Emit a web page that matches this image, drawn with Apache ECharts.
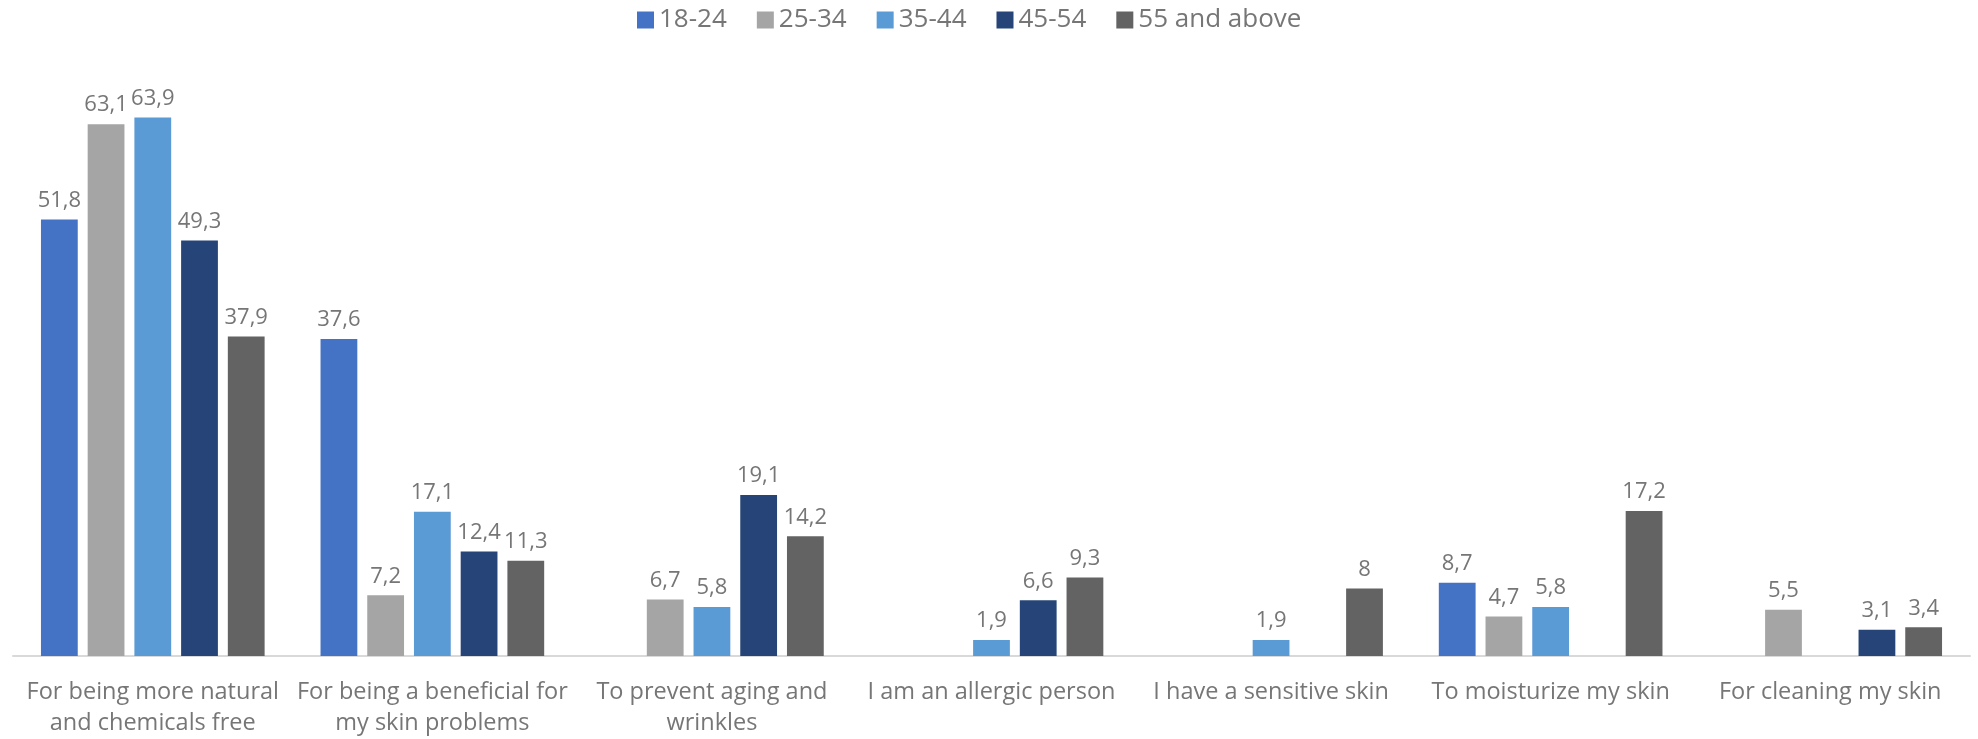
<!DOCTYPE html>
<html>
<head>
<meta charset="utf-8">
<title>Reasons for choosing products by age group</title>
<script src="https://cdn.jsdelivr.net/npm/echarts@6/dist/echarts.min.js"></script>
<style>
  html, body { margin: 0; padding: 0; background: #ffffff; }
  #chart { width: 1978px; height: 739px; }
</style>
</head>
<body>
<div id="chart"></div>
<script>
// Reasons (x-axis categories)
const categories = [
  'For being more natural\nand chemicals free',
  'For being a beneficial for\nmy skin problems',
  'To prevent aging and\nwrinkles',
  'I am an allergic person',
  'I have a sensitive skin',
  'To moisturize my skin',
  'For cleaning my skin'
];

// Age groups
const ageGroups = ['18-24', '25-34', '35-44', '45-54', '55 and above'];

// Percentages per age group (null = no answer in that group)
const age18to24 = [51.8, 37.6, null, null, null, 8.7, null];
const age25to34 = [63.1, 7.2, 6.7, null, null, 4.7, 5.5];
const age35to44 = [63.9, 17.1, 5.8, 1.9, 1.9, 5.8, null];
const age45to54 = [49.3, 12.4, 19.1, 6.6, null, null, 3.1];
const age55plus = [37.9, 11.3, 14.2, 9.3, 8, 17.2, 3.4];

const seriesValues = [age18to24, age25to34, age35to44, age45to54, age55plus];
const colors = ['#4472C4', '#A5A5A5', '#5B9BD5', '#264478', '#636363'];

const FONT = '"Open Sans", "Noto Sans", sans-serif';
const TEXT = '#767676';

const chart = echarts.init(document.getElementById('chart'));

chart.setOption({
  animation: false,
  textStyle: { fontFamily: FONT },
  color: colors,
  legend: {
    top: 2,
    left: 632,
    itemWidth: 17,
    itemHeight: 17,
    itemGap: 30,
    icon: 'rect',
    textStyle: { fontFamily: FONT, fontSize: 26, color: TEXT },
    data: ageGroups
  },
  grid: { left: 13, right: 8, top: 66, bottom: 76.5, containLabel: false },
  xAxis: {
    type: 'category',
    data: categories,
    axisLine: { lineStyle: { color: '#D9D9D9', width: 2 } },
    axisTick: { show: false },
    axisLabel: {
      interval: 0,
      margin: 21,
      fontFamily: FONT,
      fontSize: 23.5,
      lineHeight: 31,
      color: TEXT
    }
  },
  yAxis: {
    type: 'value',
    min: 0,
    max: 70,
    show: false,
    splitLine: { show: false }
  },
  series: ageGroups.map((name, i) => ({
    name: name,
    type: 'bar',
    data: seriesValues[i],
    barGap: '27%',
    barCategoryGap: '20%',
    itemStyle: { color: colors[i] },
    label: {
      show: true,
      position: 'top',
      distance: 8,
      fontFamily: FONT,
      fontSize: 22,
      color: TEXT,
      formatter: p => (p.value == null ? '' : String(p.value).replace('.', ','))
    }
  }))
});
</script>
</body>
</html>
